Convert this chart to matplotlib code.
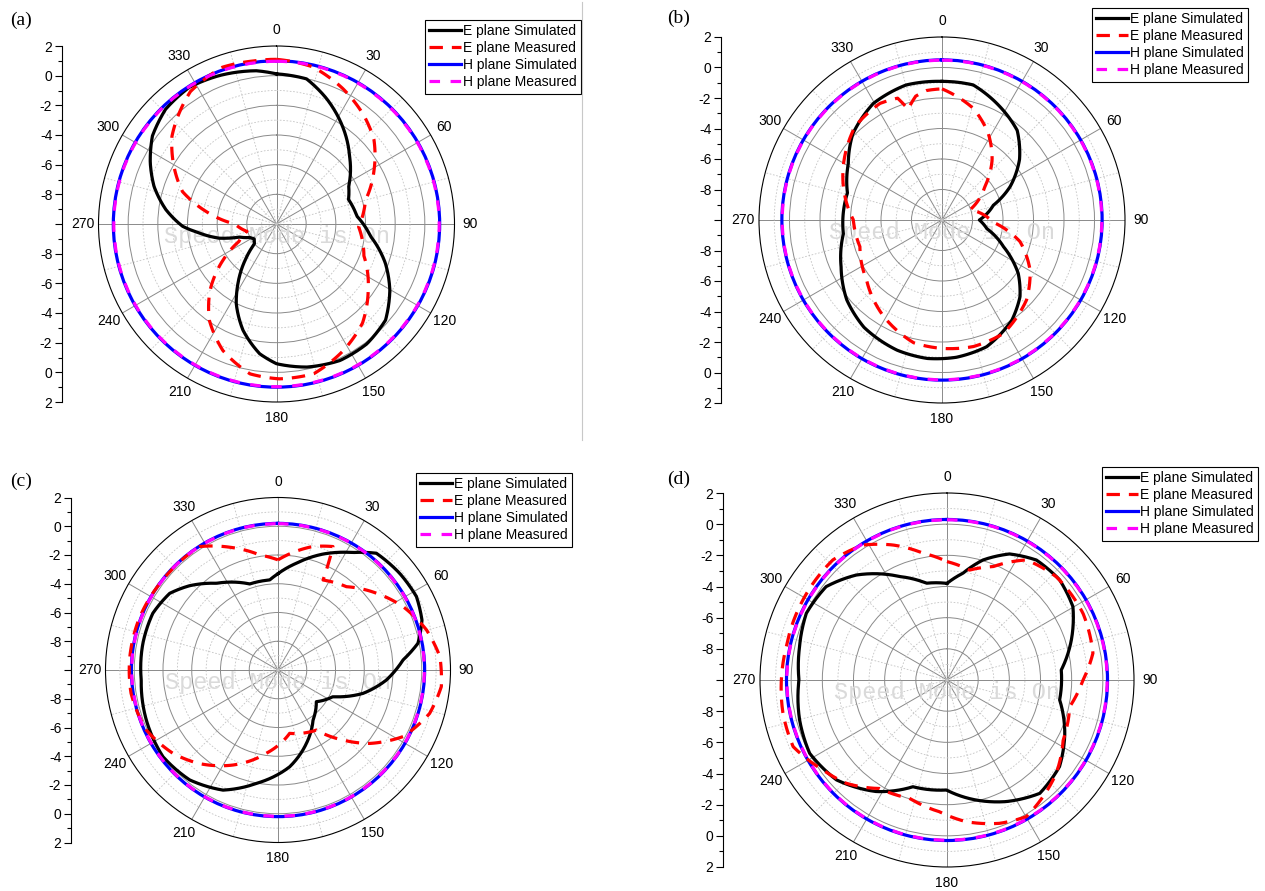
import numpy as np
import matplotlib
matplotlib.use('Agg')
import matplotlib.pyplot as plt
from matplotlib.lines import Line2D

plt.rcParams['font.family'] = ['Liberation Sans', 'DejaVu Sans']

W, H = 1265, 891

# ---- panel (a) ----
a_sim_ang = [0, 11.7, 21.9, 35.2, 47, 62.3, 71.2, 84.5, 97.5, 109.8, 120.2, 131.4, 143, 155, 168, 180,
             187.4, 197.5, 206.9, 213, 221.6, 228, 236, 243, 250.5, 256, 263.3, 268.6, 277.4, 287, 296,
             305.4, 316, 327.5, 339, 352.5, 360]
a_sim_val = [0.12, -0.01, -0.91, -2.16, -3.27, -4.5, -4.87, -4.55, -3.6, -2.2, -1.16, -0.2, 0.12, 0.15, -0.14, -0.58,
             -1.18, -2.49, -4.0, -5.23, -6.9, -8.0, -8.2, -8.0, -7.36, -6.04, -4.77, -3.67, -2.48, -1.37, -0.53,
             0.26, 0.76, 0.93, 0.72, 0.42, 0.12]
a_mea_ang = [0, 13, 26, 39, 49, 61, 75, 92, 110, 126, 139, 152, 166, 179, 190, 203, 215, 225, 236, 245,
             256, 270, 280, 289, 302, 310, 319, 327, 341, 352, 360]
a_mea_val = [1.1, 0.87, 0.17, -0.62, -1.3, -2.48, -3.79, -4.46, -3.73, -2.36, -1.16, -0.36, 0.4, 0.44, 0.26,
             -0.74, -2.1, -3.66, -5.66, -7.2, -7.95, -7.2, -5.2, -3.3, -1.75, -0.8, -0.03, 0.65, 1.18, 1.1, 1.1]

# ---- panel (b) ----
b_sim_ang = [0, 13, 27, 40, 52, 64, 74, 90, 101, 113.5, 125, 134.5, 145, 160.6, 174, 186, 199, 216, 230,
             245, 262, 286, 301, 314, 329.5, 345, 360]
b_sim_val = [-0.91, -0.91, -1.65, -2.33, -3.55, -5.04, -6.5, -7.55, -7.0, -5.6, -3.9, -2.83, -2.0, -1.19,
             -0.95, -0.87, -0.97, -1.3, -1.85, -2.7, -3.47, -3.55, -2.83, -1.87, -1.13, -0.84, -0.91]
b_mea_ang = [0, 15.7, 28, 40, 52, 70, 92.6, 105.5, 119.6, 133.4, 151.6, 166, 180, 193, 211, 231.5, 252,
             270, 283.5, 300, 317, 332, 340, 343, 348, 353, 360]
b_mea_val = [-1.4, -2.4, -3.55, -4.89, -6.43, -8.05, -6.63, -4.69, -3.36, -2.37, -1.54, -1.45, -1.58, -1.74,
             -2.6, -3.68, -4.34, -4.19, -3.46, -2.55, -1.63, -1.34, -1.5, -2.4, -1.7, -1.45, -1.4]

# ---- panel (c) ----
c_sim_ang = [0, 9.8, 21.2, 32.6, 40.1, 51.5, 62.1, 70.9, 79.2, 85.4, 95.3, 105.4, 115.9, 129.6, 145, 158.9,
             173.1, 190.8, 204.6, 218.8, 233, 249.2, 265.8, 281.2, 294.4, 305.3, 313.6, 324.6, 341.8, 354.7, 360]
c_sim_val = [-3.3, -2.46, -1.35, -0.3, 0.62, 0.81, 0.9, 0.6, -0.09, -1.27, -2.43, -3.87, -5.75, -6.54, -5.75,
             -4.52, -3.22, -1.97, -0.81, -0.19, 0.02, -0.2, -0.46, -0.42, -0.44, -0.77, -1.5, -2.6, -3.7,
             -3.71, -3.3]
c_mea_ang = [0, 15.8, 24, 26.6, 39.4, 52, 63.1, 74.9, 85.3, 95.8, 106, 118, 128.7, 137.1, 147.4, 169.6, 188,
             205.3, 220, 231.6, 245.5, 261, 274, 290, 308, 327.6, 338.5, 351, 360]
c_mea_val = [-2.34, -1.07, -0.6, -3.0, -2.5, -1.32, -0.25, 0.7, 1.3, 1.42, 0.97, -0.14, -1.83, -3.35, -5.04,
             -5.52, -4.15, -2.69, -1.5, -0.67, 0.07, 0.35, 0.35, 0.3, 0.17, 0.17, -0.82, -1.9, -2.34]

# ---- panel (d) ----
d_sim_ang = [0, 8.5, 16.7, 26.4, 36.7, 48.4, 59.8, 72.2, 85, 100, 114.4, 127.6, 140.7, 154, 166.3, 180.3,
             197.7, 212.3, 227.9, 241.9, 254.8, 270, 282.7, 295.4, 307.7, 319.2, 335.4, 348, 360]
d_sim_val = [-3.8, -3.07, -1.96, -0.97, -0.4, -0.33, -0.65, -1.62, -2.64, -2.66, -1.7, -0.89, -0.6, -1.32,
             -2.07, -2.94, -2.81, -1.53, -0.44, -0.01, -0.2, -0.5, -0.3, -0.01, -0.2, -1.1, -2.7, -3.65, -3.8]
d_mea_ang = [0, 11.6, 22.1, 33.5, 46.6, 63.9, 79.6, 90, 102.3, 117.3, 130.5, 149.9, 159.8, 172.2, 183.2,
             197.5, 211.9, 224.3, 234, 246.6, 258.5, 270, 281.7, 296.5, 316.5, 328.1, 338.2, 349.3, 360]
d_mea_val = [-2.4, -2.8, -2.15, -0.76, -0.35, -0.28, -0.48, -1.27, -1.94, -1.61, -0.78, 0.14, -0.2, -0.82,
             -1.53, -2.04, -1.8, -0.74, -0.17, 0.76, 0.74, 0.63, 0.53, 0.57, 0.63, 0.2, -0.67, -1.72, -2.4]

# ---- H plane (flat in every panel) ----
h_ang = [0, 30, 60, 90, 120, 150, 180, 210, 240, 270, 300, 330, 360]
a_hsim = [1.0, 1.0, 1.0, 1.0, 1.0, 1.0, 1.0, 1.0, 1.0, 1.0, 1.0, 1.0, 1.0]
a_hmea = [0.97, 0.97, 0.97, 0.97, 0.97, 0.97, 0.97, 0.97, 0.97, 0.97, 0.97, 0.97, 0.97]
b_hsim = [0.5, 0.5, 0.5, 0.5, 0.5, 0.5, 0.5, 0.5, 0.5, 0.5, 0.5, 0.5, 0.5]
b_hmea = [0.48, 0.48, 0.48, 0.48, 0.48, 0.48, 0.48, 0.48, 0.48, 0.48, 0.48, 0.48, 0.48]
c_hsim = [0.2, 0.2, 0.2, 0.2, 0.2, 0.2, 0.2, 0.2, 0.2, 0.2, 0.2, 0.2, 0.2]
c_hmea = [0.18, 0.18, 0.18, 0.18, 0.18, 0.18, 0.18, 0.18, 0.18, 0.18, 0.18, 0.18, 0.18]
d_hsim = [0.3, 0.3, 0.3, 0.3, 0.3, 0.3, 0.3, 0.3, 0.3, 0.3, 0.3, 0.3, 0.3]
d_hmea = [0.28, 0.28, 0.28, 0.28, 0.28, 0.28, 0.28, 0.28, 0.28, 0.28, 0.28, 0.28, 0.28]

labels = ['E plane Simulated', 'E plane Measured', 'H plane Simulated', 'H plane Measured']
angle_labels = [str(a) for a in range(0, 360, 30)]


def fx(x):
    return x / W


def fy(y):
    return 1 - y / H


def polar_line(ax, ang, val, **kw):
    ln, = ax.plot(np.radians(ang), val, **kw)
    # let the polar transform draw arcs / spirals between the points
    ln.get_path()._interpolation_steps = 60
    return ln


def draw_panel(fig, cx, cy, R, axis_x, e_sim, e_mea, h_sim, h_mea, leg_xy, tag, tag_xy):
    ax = fig.add_axes([fx(cx - R), fy(cy + R), 2 * R / W, 2 * R / H], projection='polar')
    ax.set_theta_zero_location('N')
    ax.set_theta_direction(-1)

    polar_line(ax, e_sim[0], e_sim[1], color='black', lw=2.3, label=labels[0], zorder=3)
    polar_line(ax, e_mea[0], e_mea[1], color='red', lw=2.3, dashes=(4.2, 2.8), label=labels[1], zorder=4)
    polar_line(ax, h_ang, h_sim, color='blue', lw=2.3, label=labels[2], zorder=3)
    polar_line(ax, h_ang, h_mea, color='magenta', lw=2.3, dashes=(3.3, 3.3), label=labels[3], zorder=4)

    ax.set_ylim(-10, 2)
    ax.set_yticks([-8, -6, -4, -2, 0])
    ax.set_yticks([-9, -7, -5, -3, -1, 1], minor=True)
    ax.set_yticklabels([])
    ax.set_xticks(np.radians(np.arange(0, 360, 30)))
    ax.set_xticklabels(angle_labels)
    ax.set_xticks(np.radians(np.arange(15, 360, 30)), minor=True)
    ax.grid(which='major', color='#8a8a8a', lw=0.7, ls='-')
    ax.grid(which='minor', color='#c4c4c4', lw=0.6, ls=(0, (2, 2)))
    ax.tick_params(axis='x', which='major', pad=1, labelsize=10)
    ax.tick_params(axis='both', which='minor', length=0)
    ax.spines['polar'].set_color('black')
    ax.spines['polar'].set_linewidth(0.8)

    ax.text(0.5, 0.5 - 12 / (2 * R), 'Speed Mode is On', transform=ax.transAxes, ha='center', va='center',
            family='Liberation Mono', fontsize=17, color='#dadada', zorder=2)

    leg = ax.legend(loc='upper left', bbox_to_anchor=(fx(leg_xy[0]), fy(leg_xy[1])),
                    bbox_transform=fig.transFigure, fancybox=False, edgecolor='black', framealpha=1,
                    fontsize=10, handlelength=2.3, handletextpad=0.15, borderpad=0.3, labelspacing=0.22,
                    borderaxespad=0)
    leg.get_frame().set_linewidth(0.8)

    # linear scale on the left
    sax = fig.add_axes([fx(axis_x), fy(cy + R), 0.0005, 2 * R / H])
    sax.set_ylim(-12, 12)
    for s in ['top', 'right', 'bottom']:
        sax.spines[s].set_visible(False)
    sax.spines['left'].set_linewidth(0.8)
    sax.set_xticks([])
    ticks = list(range(-12, 13, 2))
    sax.set_yticks(ticks)
    sax.set_yticklabels(['' if t == 0 else str(abs(t) - 10) for t in ticks], fontsize=10)
    sax.set_yticks(list(range(-11, 12, 2)), minor=True)
    sax.tick_params(axis='y', which='major', direction='out', length=5, width=0.8, pad=2)
    sax.tick_params(axis='y', which='minor', direction='out', length=3, width=0.8)
    sax.patch.set_visible(False)

    fig.text(fx(tag_xy[0]), fy(tag_xy[1]), tag, family='Liberation Serif', fontsize=14, va='center')


fig = plt.figure(figsize=(W / 100, H / 100), dpi=100)

draw_panel(fig, 276.5, 224, 178, 62, (a_sim_ang, a_sim_val), (a_mea_ang, a_mea_val), a_hsim, a_hmea,
           (425, 20), '(a)', (10, 20))
draw_panel(fig, 942, 220, 183, 721, (b_sim_ang, b_sim_val), (b_mea_ang, b_mea_val), b_hsim, b_hmea,
           (1092, 8), '(b)', (667, 18))
draw_panel(fig, 278, 670, 172.5, 71, (c_sim_ang, c_sim_val), (c_mea_ang, c_mea_val), c_hsim, c_hmea,
           (416, 473), '(c)', (10, 481))
draw_panel(fig, 947, 680, 187, 723, (d_sim_ang, d_sim_val), (d_mea_ang, d_mea_val), d_hsim, d_hmea,
           (1102, 467), '(d)', (667, 479))

fig.add_artist(Line2D([fx(582), fx(582)], [fy(2), fy(440)], color='#c8c8c8', lw=0.8))

fig.savefig('out.png', dpi=100)
